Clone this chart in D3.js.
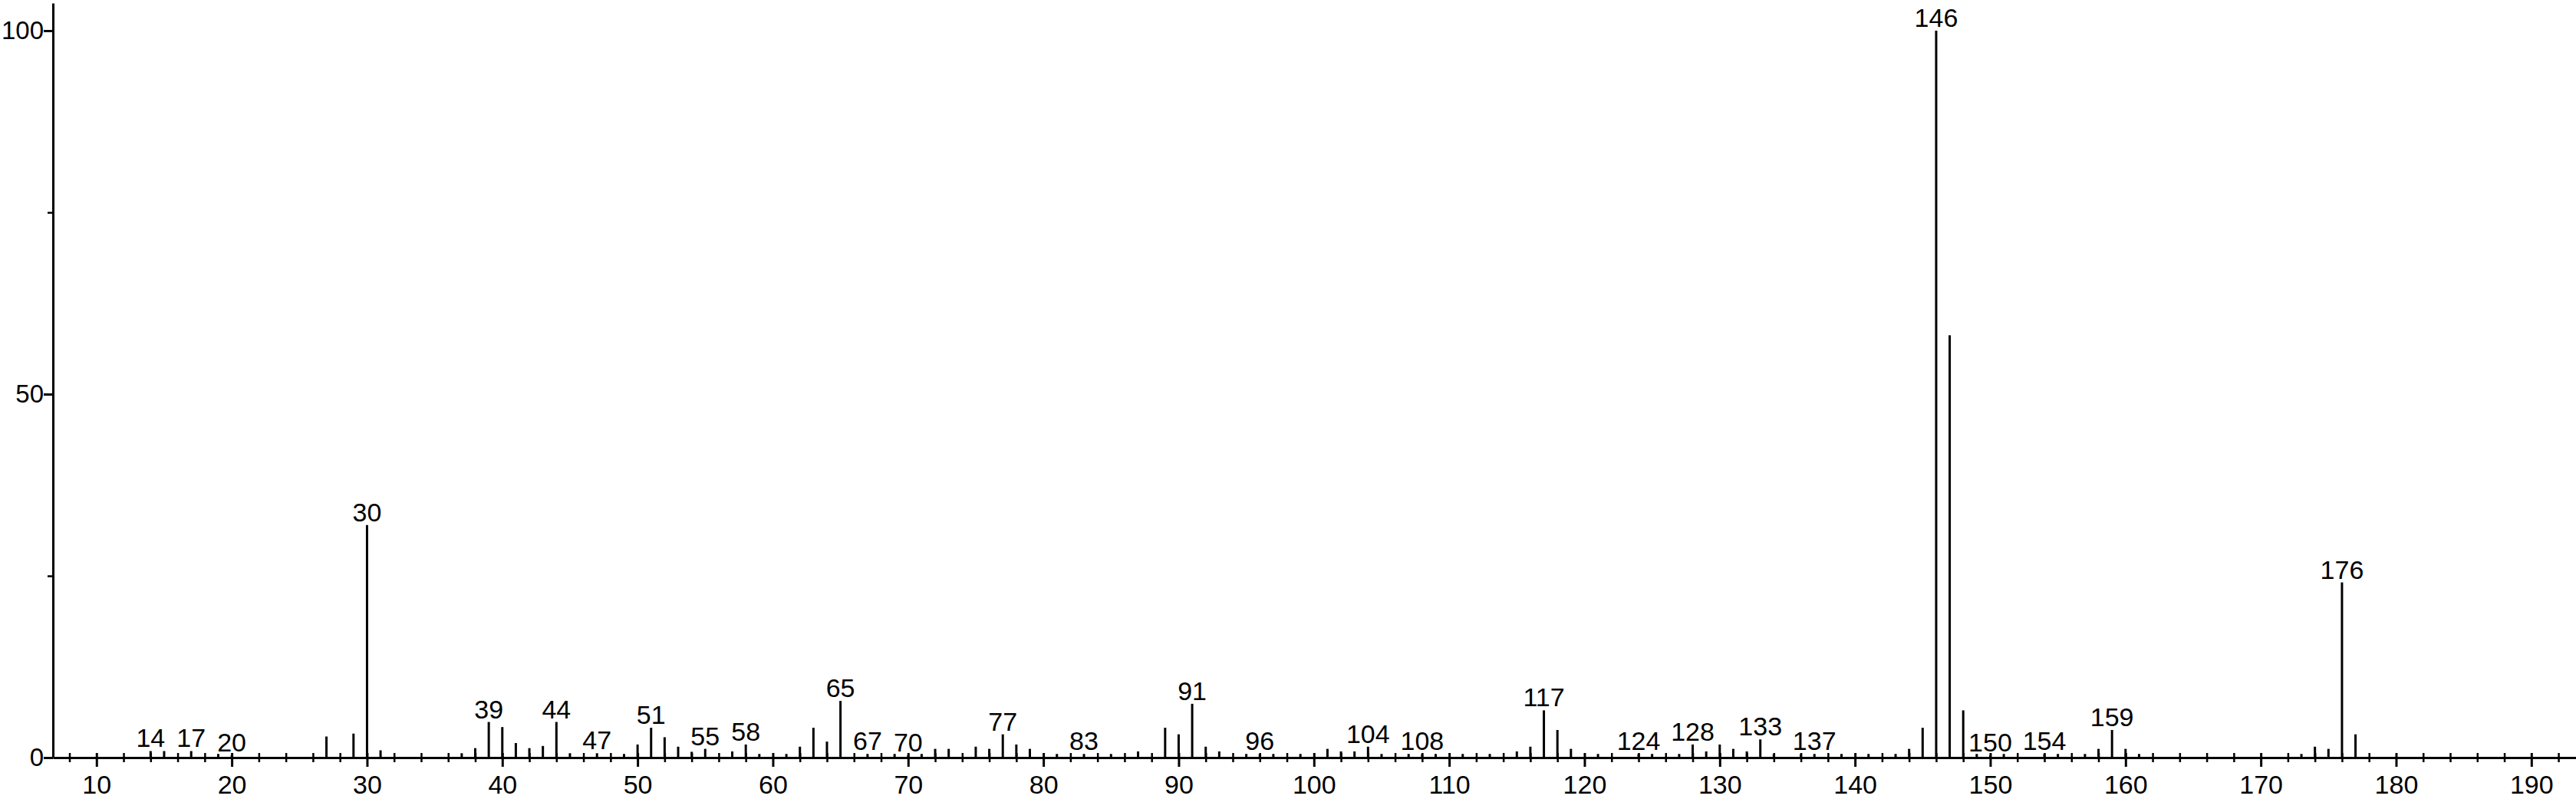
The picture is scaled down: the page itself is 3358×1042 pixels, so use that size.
<!DOCTYPE html>
<meta charset="utf-8">
<script src="https://d3js.org/d3.v7.min.js"></script>
<style>
  body { margin: 0; background: #fff; }
  text { font-family: "Liberation Sans", Arial, sans-serif; }
</style>
<div id="chart"></div>
<script>
// m/z and relative intensity
var mz = [14, 15, 17, 19, 20, 27, 29, 30, 31, 37, 38, 39, 40, 41, 42, 43, 44, 45, 47, 49,
  50, 51, 52, 53, 54, 55, 57, 58, 59, 61, 62, 63, 64, 65, 67, 69, 70, 71, 72, 73,
  75, 76, 77, 78, 79, 81, 83, 85, 87, 89, 90, 91, 92, 93, 95, 96, 97, 99, 101, 102,
  103, 104, 105, 107, 108, 109, 111, 113, 115, 116, 117, 118, 119, 121, 124, 125, 127, 128, 129, 130,
  131, 132, 133, 134, 136, 137, 139, 141, 143, 144, 145, 146, 147, 148, 149, 150, 151, 154, 155, 157,
  158, 159, 160, 161, 173, 174, 175, 176, 177];
var intensity = [0.9, 0.9, 0.9, 0.5, 0.3, 2.9, 3.3, 32.0, 1.0, 0.6, 1.3, 4.9, 4.2, 2.0, 1.3, 1.6, 4.9, 0.6, 0.6, 0.5,
  1.8, 4.1, 2.8, 1.5, 0.8, 1.2, 0.85, 1.8, 0.5, 0.5, 1.5, 4.1, 2.2, 7.8, 0.5, 0.5, 0.3, 0.5, 1.2, 1.2,
  1.5, 1.2, 3.2, 1.8, 1.2, 0.5, 0.5, 0.5, 0.85, 4.1, 3.2, 7.4, 1.5, 0.85, 0.5, 0.5, 0.5, 0.5, 1.2, 0.85,
  0.85, 1.5, 0.5, 0.5, 0.5, 0.5, 0.5, 0.5, 0.85, 1.5, 6.5, 3.8, 1.2, 0.5, 0.5, 0.5, 0.5, 1.8, 0.85, 1.8,
  1.2, 0.85, 2.5, 0.5, 0.5, 0.5, 0.5, 0.5, 0.5, 1.2, 4.1, 100, 58.1, 6.5, 0.5, 0.3, 0.5, 0.5, 0.5, 0.5,
  1.2, 3.8, 1.2, 0.5, 0.5, 1.5, 1.2, 24.1, 3.2];
var labelled = [14, 17, 20, 30, 39, 44, 47, 51, 55, 58, 65, 67, 70, 77, 83, 91, 96, 104, 108, 117,
  124, 128, 133, 137, 146, 150, 154, 159, 176];
var xMajor = [10, 20, 30, 40, 50, 60, 70, 80, 90, 100, 110, 120, 130, 140, 150, 160, 170, 180, 190];
var yTicks = [0, 50, 100];
var yMinor = [25, 75];

var width = 3358, height = 1042;
var left = 69, bottom = 988;

var svg = d3.select("#chart").append("svg")
  .attr("width", width)
  .attr("height", height);

var x = d3.scaleLinear().domain([6.78, 193.3]).range([left, width]);
var y = d3.scaleLinear().domain([0, 103.8]).range([bottom, 4]);

var peaks = mz.map(function(m, i) { return { mz: m, v: intensity[i] }; });

// minor x ticks every 2, crossing the baseline
var xMinor = d3.range(8, 194, 2).filter(function(d) { return d % 10 != 0; });
svg.append("g")
  .attr("transform", "translate(0," + bottom + ")")
  .call(d3.axisBottom(x).tickValues(xMinor).tickSize(6).tickFormat(""))
  .call(function(g) {
    g.select(".domain").remove();
    g.selectAll(".tick line").attr("y1", -6).attr("stroke-width", 2.5);
  });

// major x ticks + labels
svg.append("g")
  .attr("transform", "translate(0," + bottom + ")")
  .call(d3.axisBottom(x).tickValues(xMajor).tickSize(12).tickSizeOuter(0).tickPadding(11))
  .call(function(g) {
    g.select(".domain").attr("stroke-width", 3);
    g.selectAll(".tick line").attr("y1", -6).attr("stroke-width", 3);
    g.selectAll(".tick text").attr("font-size", 34).attr("fill", "#000");
  });

// y axis
svg.append("g")
  .attr("transform", "translate(" + left + ",0)")
  .call(d3.axisLeft(y).tickValues(yTicks).tickSize(12).tickSizeOuter(0).tickPadding(0))
  .call(function(g) {
    g.select(".domain").attr("stroke-width", 3);
    g.selectAll(".tick line").attr("stroke-width", 3);
    g.selectAll(".tick text").attr("font-size", 33).attr("fill", "#000");
  });

svg.append("g")
  .attr("transform", "translate(" + left + ",0)")
  .call(d3.axisLeft(y).tickValues(yMinor).tickSize(7).tickFormat(""))
  .call(function(g) {
    g.select(".domain").remove();
    g.selectAll(".tick line").attr("stroke-width", 2.5);
  });

// peaks
svg.append("g")
  .selectAll("line")
  .data(peaks)
  .enter().append("line")
  .attr("x1", function(d) { return x(d.mz); })
  .attr("x2", function(d) { return x(d.mz); })
  .attr("y1", y(0))
  .attr("y2", function(d) { return y(d.v); })
  .attr("stroke", "#000")
  .attr("stroke-width", 3);

// peak labels
svg.append("g")
  .selectAll("text")
  .data(peaks.filter(function(d) { return labelled.indexOf(d.mz) >= 0; }))
  .enter().append("text")
  .attr("x", function(d) { return x(d.mz); })
  .attr("y", function(d) { return y(d.v) - 5; })
  .attr("text-anchor", "middle")
  .attr("font-size", 34)
  .text(function(d) { return d.mz; });
</script>
